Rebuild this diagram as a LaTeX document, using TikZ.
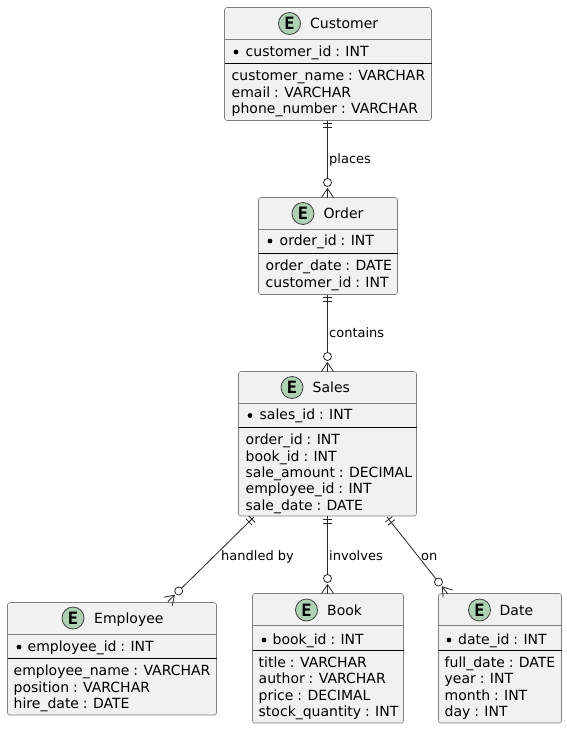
\documentclass[tikz,border=0pt]{standalone}
\usepackage{fontspec}
\setmainfont{DejaVu Sans}
\newfontfamily\spotfont{DejaVu Sans Mono}
\usetikzlibrary{calc}
\definecolor{boxfill}{HTML}{F1F1F1}
\definecolor{boxedge}{HTML}{7F7F7F}
\definecolor{spotfill}{HTML}{ADD1B2}
\definecolor{spotedge}{HTML}{404040}
\definecolor{inkc}{HTML}{000000}
\newcommand{\memberfont}{\fontsize{14}{14}\selectfont\spaceskip 3.9pt\relax}
\tikzset{
 entbox/.style={draw=boxedge,fill=boxfill,line width=0.6pt,rounded corners=2.5pt,anchor=north west,inner sep=0pt,outer sep=0pt},
 spotc/.style={circle,draw=spotedge,fill=spotfill,line width=0.8pt,minimum size=22pt,inner sep=0pt,font=\spotfont\fontsize{17}{17}\selectfont\bfseries},
 titletext/.style={anchor=base west,inner sep=0pt,font=\fontsize{14}{14}\selectfont,text=inkc},
 membertext/.style={anchor=base west,inner sep=0pt,font=\memberfont,text=inkc},
 reltext/.style={anchor=base west,inner sep=0pt,font=\fontsize{13}{13}\selectfont,text=inkc},
 dividerline/.style={draw=boxedge,line width=0.6pt},
 keyline/.style={draw=black,line width=0.8pt},
 relline/.style={draw=black!85,line width=0.8pt},
}
% name, x1,y1,x2,y2, header y, sep y
\newcommand{\entbody}[7]{%
 \node[entbox,minimum width=#4pt-#2pt,minimum height=#5pt-#3pt] (#1) at (#2,#3) {};
 \draw[dividerline] (#2,#6) -- (#4,#6);
 \draw[keyline] (#2,#7) -- (#4,#7);
}
\newcommand{\relate}[2]{% from, to
 \coordinate (ra) at #1; \coordinate (rb) at #2;
 \draw[relline] (ra) -- ($(rb)!13.5pt!(ra)$);
 \draw[relline] ($(ra)!3pt!(rb)!4.5pt!90:(rb)$) -- ($(ra)!3pt!(rb)!4.5pt!-90:(rb)$);
 \draw[relline] ($(ra)!7pt!(rb)!4.5pt!90:(rb)$) -- ($(ra)!7pt!(rb)!4.5pt!-90:(rb)$);
 \draw[relline,fill=white] ($(rb)!15pt!(ra)$) circle (4pt);
 \draw[relline] ($(rb)!9pt!(ra)$) -- (rb);
 \draw[relline] ($(rb)!9pt!(ra)$) -- ($(rb)!6pt!90:(ra)$);
 \draw[relline] ($(rb)!9pt!(ra)$) -- ($(rb)!6pt!-90:(ra)$);
}
\begin{document}
\begin{tikzpicture}[x=1pt,y=-1pt]
\useasboundingbox (0,0) rectangle (567,729);
\fill[white] (0,0) rectangle (567,729);
% entities
\entbody{customer}{224.5}{7.5}{431.5}{120.5}{39.5}{63}
\entbody{order}{258.5}{197.5}{397.5}{294.5}{229.5}{253}
\entbody{sales}{238.5}{371.5}{416.5}{516}{403.5}{427}
\entbody{employee}{7.5}{602.5}{216.5}{715}{634.5}{658}
\entbody{book}{252.5}{593.5}{403.5}{723}{625.5}{650}
\entbody{date}{438.5}{593.5}{561.5}{723}{625.5}{650}
% relations
\relate{(327.5,120.5)}{(327.5,197.5)}
\relate{(327.5,294.5)}{(327.5,371.5)}
\relate{(254,517)}{(168,601.5)}
\relate{(327.5,516)}{(327.5,593.5)}
\relate{(387,517)}{(447.8,593.8)}
\node[reltext] (lplaces) at (329,163) {places};
\node[reltext] (lcontains) at (329,337) {contains};
\node[reltext] (lhandled) at (221,560) {handled by};
\node[reltext] (linvolves) at (329,560) {involves};
\node[reltext] (lon) at (421,560) {on};
% spots and titles
\node[spotc] (scustomer) at (289.5,23.5) {E};
\node[titletext] (tcustomer) at (310,28.5) {Customer};
\node[spotc] (sorder) at (303,213.5) {E};
\node[titletext] (torder) at (323.5,218.5) {Order};
\node[spotc] (ssales) at (292,387.5) {E};
\node[titletext] (tsales) at (312.5,392.5) {Sales};
\node[spotc] (semployee) at (73,618) {E};
\node[titletext] (temployee) at (94,623) {Employee};
\node[spotc] (sbook) at (306.5,610) {E};
\node[titletext] (tbook) at (327,615) {Book};
\node[spotc] (sdate) at (479.5,610) {E};
\node[titletext] (tdate) at (499.5,615) {Date};
% keys
\fill (236,52) circle (2.4pt); \node[membertext] (kcustomer) at (245.5,56) {customer\_id : INT};
\fill (270,241) circle (2.4pt); \node[membertext] (korder) at (279.5,245) {order\_id : INT};
\fill (250,415.5) circle (2.4pt); \node[membertext] (ksales) at (259.5,419.5) {sales\_id : INT};
\fill (19,647) circle (2.4pt); \node[membertext] (kemployee) at (27.5,651) {employee\_id : INT};
\fill (264,640) circle (2.4pt); \node[membertext] (kbook) at (272.5,644) {book\_id : INT};
\fill (449,640) circle (2.4pt); \node[membertext] (kdate) at (458,644) {date\_id : INT};
% members
\node[membertext] (m1) at (231.5,80) {customer\_name : VARCHAR};
\node[membertext] (m2) at (231.5,97) {email : VARCHAR};
\node[membertext] (m3) at (231.5,113) {phone\_number : VARCHAR};
\node[membertext] (m4) at (265.5,270) {order\_date : DATE};
\node[membertext] (m5) at (265.5,287) {customer\_id : INT};
\node[membertext] (m6) at (245.5,444) {order\_id : INT};
\node[membertext] (m7) at (245.5,461) {book\_id : INT};
\node[membertext] (m8) at (245.5,477) {sale\_amount : DECIMAL};
\node[membertext] (m9) at (245.5,493) {employee\_id : INT};
\node[membertext] (m10) at (245.5,510) {sale\_date : DATE};
\node[membertext] (m11) at (13.5,675) {employee\_name : VARCHAR};
\node[membertext] (m12) at (13.5,692) {position : VARCHAR};
\node[membertext] (m13) at (13.5,708) {hire\_date : DATE};
\node[membertext] (m14) at (258.5,667) {title : VARCHAR};
\node[membertext] (m15) at (258.5,683) {author : VARCHAR};
\node[membertext] (m16) at (258.5,700) {price : DECIMAL};
\node[membertext] (m17) at (258.5,716) {stock\_quantity : INT};
\node[membertext] (m18) at (444.5,667) {full\_date : DATE};
\node[membertext] (m19) at (444.5,683) {year : INT};
\node[membertext] (m20) at (444.5,700) {month : INT};
\node[membertext] (m21) at (444.5,716) {day : INT};
\end{tikzpicture}
\end{document}
